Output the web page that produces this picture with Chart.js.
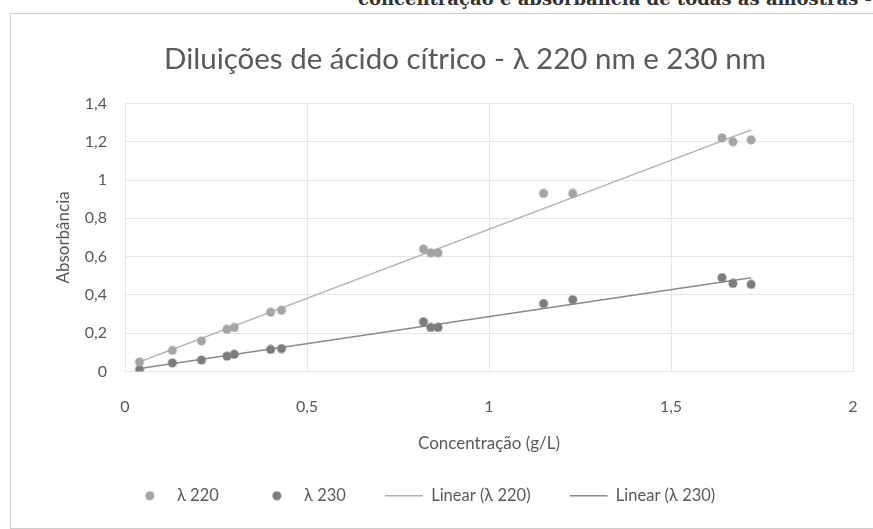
<!DOCTYPE html>
<html>
<head>
<meta charset="utf-8">
<script src="https://cdn.jsdelivr.net/npm/chart.js@4"></script>
<style>
    body { margin: 0; background: #fff; overflow: hidden; }
    .caption { position: absolute; left: 358px; top: -12px; font: bold 18px "DejaVu Serif", serif; color: #333; white-space: nowrap; }
    .frame { position: absolute; left: 10px; top: 13px; width: 880px; height: 514px; border: 1px solid #cfcfcf; }
</style>
</head>
<body>
<div class="caption">concentração e absorbância de todas as amostras - λ 220 nm e</div>
<div class="frame"><canvas id="graph" width="880" height="514"></canvas></div>
<script>
// concentração (g/L)
let concentracao = [0.04, 0.13, 0.21, 0.28, 0.30, 0.40, 0.43, 0.82, 0.84, 0.86, 1.15, 1.23, 1.64, 1.67, 1.72]
let abs220 = [0.05, 0.11, 0.16, 0.22, 0.23, 0.31, 0.32, 0.64, 0.62, 0.62, 0.93, 0.93, 1.22, 1.20, 1.21]
let abs230 = [0.01, 0.045, 0.06, 0.08, 0.09, 0.115, 0.12, 0.26, 0.23, 0.23, 0.355, 0.375, 0.49, 0.46, 0.455]
let yTicks = [0, 0.2, 0.4, 0.6, 0.8, 1, 1.2, 1.4]
let xTicks = [0, 0.5, 1, 1.5, 2]

let toPoints = (xs, ys) => xs.map((x, i) => ({ x: x, y: ys[i] }))

// least squares, like Excel trendline
let trend = (xs, ys) => {
    let n = xs.length
    let sx = xs.reduce((a, b) => a + b, 0), sy = ys.reduce((a, b) => a + b, 0)
    let sxy = 0, sxx = 0
    for (let i = 0; i < n; i++) { sxy += xs[i] * ys[i]; sxx += xs[i] * xs[i] }
    let m = (n * sxy - sx * sy) / (n * sxx - sx * sx)
    let b = (sy - m * sx) / n
    let x0 = Math.min(...xs), x1 = Math.max(...xs)
    return [{ x: x0, y: m * x0 + b }, { x: x1, y: m * x1 + b }]
}

let dot = (color) => {
    let c = document.createElement("canvas")
    c.width = 38; c.height = 10
    let g = c.getContext("2d")
    g.fillStyle = color
    g.beginPath(); g.arc(19, 5, 4.5, 0, Math.PI * 2); g.fill()
    return c
}

// title sits a bit right, legend a bit left, like the excel sheet
let nudge = {
    id: 'nudge',
    afterLayout: chart => {
        chart.titleBlock.left += 12
        chart.titleBlock.right += 12
        chart.legend.left -= 30
        chart.legend.right -= 30
    }
}

let font = "Lato, 'Open Sans', sans-serif"
let grey = '#595959'

new Chart("graph", {
    type: 'scatter',
    data: {
        datasets: [
            { label: 'λ 220', data: toPoints(concentracao, abs220), backgroundColor: '#9c9c9c', borderColor: '#9c9c9c', pointRadius: 5, pointStyle: dot('#a4a4a4'), order: 1 },
            { label: 'λ 230', data: toPoints(concentracao, abs230), backgroundColor: '#8c8c8c', borderColor: '#8c8c8c', pointRadius: 5, pointStyle: dot('#7c7c7c'), order: 1 },
            { type: 'line', label: 'Linear (λ 220)', data: trend(concentracao, abs220), borderColor: '#b0b0b0', borderWidth: 1.5, pointRadius: 0, pointStyle: 'line', order: 2 },
            { type: 'line', label: 'Linear (λ 230)', data: trend(concentracao, abs230), borderColor: '#8a8a8a', borderWidth: 1.5, pointRadius: 0, pointStyle: 'line', order: 2 }
        ]
    },
    plugins: [nudge],
    options: {
        responsive: false,
        animation: false,
        layout: { padding: { left: 42, right: 38, top: 0, bottom: 14 } },
        elements: { point: { pointStyle: 'circle' } },
        plugins: {
            title: {
                display: true,
                text: 'Diluições de ácido cítrico - λ 220 nm e 230 nm',
                color: grey,
                font: { family: font, size: 29.5, weight: 'normal' },
                padding: { top: 28, bottom: 26 }
            },
            legend: {
                position: 'bottom',
                labels: {
                    usePointStyle: true,
                    pointStyleWidth: 38,
                    boxHeight: 10,
                    padding: 39,
                    color: grey,
                    font: { family: font, size: 16.5 }
                }
            },
            tooltip: { enabled: false }
        },
        scales: {
            x: {
                type: 'linear',
                min: 0, max: 2,
                afterBuildTicks: axis => { axis.ticks = xTicks.map(v => ({ value: v })) },
                afterFit: axis => { axis.height = 77 },
                ticks: { color: grey, padding: 26, font: { family: font, size: 16 }, callback: v => String(v).replace('.', ',') },
                grid: { color: '#e6e6e6', drawTicks: false },
                border: { display: false },
                title: { display: true, text: 'Concentração (g/L)', color: grey, font: { family: font, size: 17 }, padding: { top: 10, bottom: -5 } }
            },
            y: {
                min: 0, max: 1.4,
                afterBuildTicks: axis => { axis.ticks = yTicks.map(v => ({ value: v })) },
                afterFit: axis => { axis.width = 72 },
                ticks: { color: grey, padding: 18, font: { family: font, size: 16 }, callback: v => String(v).replace('.', ',') },
                grid: { color: '#e6e6e6', drawTicks: false },
                border: { display: false },
                title: { display: true, text: 'Absorbância', color: grey, font: { family: font, size: 17 }, padding: { top: 0, bottom: 0 } }
            }
        }
    }
})
</script>
</body>
</html>
